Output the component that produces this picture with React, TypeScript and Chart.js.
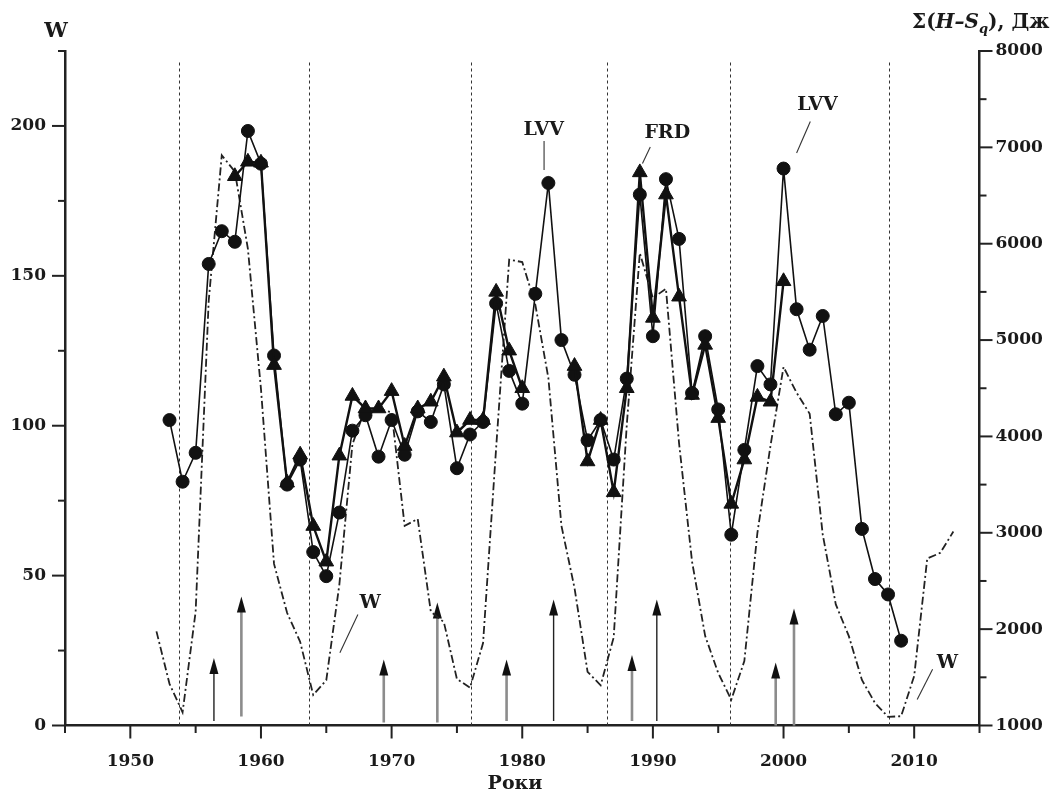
import React, { useEffect, useRef } from 'react';
import { Chart, registerables } from 'chart.js';

Chart.register(...registerables);

// ---------- data ----------
const years = [
  1952, 1953, 1954, 1955, 1956, 1957, 1958, 1959, 1960, 1961,
  1962, 1963, 1964, 1965, 1966, 1967, 1968, 1969, 1970, 1971,
  1972, 1973, 1974, 1975, 1976, 1977, 1978, 1979, 1980, 1981,
  1982, 1983, 1984, 1985, 1986, 1987, 1988, 1989, 1990, 1991,
  1992, 1993, 1994, 1995, 1996, 1997, 1998, 1999, 2000, 2001,
  2002, 2003, 2004, 2005, 2006, 2007, 2008, 2009, 2010, 2011,
  2012, 2013,
];

// W (left axis) — dash-dot curve
const sunspotW = [
  31.4, 13.9, 4.4, 38.0, 141.7, 190.2, 184.8, 159.0, 112.3, 53.9,
  37.6, 27.9, 10.2, 15.1, 47.0, 93.8, 105.9, 105.5, 104.5, 66.6,
  68.9, 38.0, 34.5, 15.5, 12.6, 27.5, 92.5, 155.4, 154.6, 140.4,
  115.9, 66.6, 45.9, 17.9, 13.4, 29.4, 100.2, 157.6, 142.6, 145.7,
  94.3, 54.6, 29.9, 17.5, 8.6, 21.5, 64.3, 93.3, 119.6, 111.0,
  104.0, 63.7, 40.4, 29.8, 15.2, 7.5, 2.9, 3.1, 16.5, 55.7,
  57.6, 64.7,
];

// Σ(H–Sq), Дж (right axis) — LVV, circles
const lvvSum = [
  null, 4170, 3530, 3830, 5790, 6130, 6020, 7170, 6830, 4840,
  3500, 3760, 2800, 2550, 3210, 4060, 4220, 3790, 4170, 3810,
  4260, 4150, 4540, 3670, 4020, 4150, 5380, 4680, 4340, 5480,
  6630, 5000, 4640, 3960, 4170, 3760, 4600, 6510, 5040, 6670,
  6050, 4450, 5040, 4280, 2980, 3860, 4730, 4540, 6780, 5320,
  4900, 5250, 4230, 4350, 3040, 2520, 2360, 1880, null, null,
  null, null,
];

// Σ(H–Sq), Дж (right axis) — FRD, triangles
const frdSum = [
  null, null, null, null, null, null, 6700, 6850, 6840, 4740,
  3520, 3810, 3070, 2700, 3800, 4420, 4290, 4290, 4470, 3900,
  4290, 4360, 4620, 4040, 4170, 4170, 5500, 4890, 4500, null,
  null, null, 4730, 3740, 4170, 3420, 4500, 6740, 5230, 6510,
  5450, 4430, 4950, 4190, 3300, 3760, 4410, 4360, 5610, null,
  null, null, null, null, null, null, null, null, null, null,
  null, null,
];

// vertical dotted lines (cycle minima), in years
const cycleMinima = [1953.7, 1963.65, 1976.1, 1986.45, 1995.9, 2008.05];
const minimaTopW = 222;

// arrows at the bottom (year, top and base in W units, grey or dark)
const arrowYears = [1956.4, 1958.5, 1969.4, 1973.5, 1978.8, 1982.4, 1988.4, 1990.3, 1999.4, 2000.8];
const arrowTops = [22.5, 43, 22, 41, 22, 42, 23.5, 42, 21, 39];
const arrowBases = [1.5, 3, 1, 1, 1.5, 1.5, 1.5, 1.5, 0, 0];
const arrowGray = [false, true, true, true, true, false, true, false, true, true];

// axis tick steps
const xTickStep = 5;
const xLabelStep = 10;
const yTickStep = 25;
const yLabelStep = 50;
const y2TickStep = 500;
const y2LabelStep = 1000;

// annotation labels (positions in data units: year, W)
const noteTexts = ['LVV', 'FRD', 'LVV', 'W', 'W'];
const noteX = [1981.65, 1991.1, 2002.6, 1968.35, 2012.55];
const noteY = [198.5, 197.5, 207, 41, 20.7];
// pointer lines: [x1, y1, x2, y2] in data units
const pointerX1 = [1981.67, 1989.8, 2002.05, 1967.42, 2011.41];
const pointerY1 = [195, 193, 201.5, 37, 18.8];
const pointerX2 = [1981.67, 1989.2, 2001.0, 1966.04, 2010.23];
const pointerY2 = [185.3, 187.5, 191, 24.3, 8.7];

const SERIF = '"DejaVu Serif", "Liberation Serif", serif';
const INK = '#1a1a1a';

const decorPlugin = {
  id: 'decor',
  beforeDatasetsDraw(chart: any) {
    const { ctx, scales } = chart;
    const x = scales.x;
    const y = scales.y;
    ctx.save();
    // dotted minima lines
    ctx.setLineDash([3, 3]);
    ctx.lineWidth = 1;
    ctx.strokeStyle = '#333';
    cycleMinima.forEach((m) => {
      const px = Math.round(x.getPixelForValue(m)) + 0.5;
      ctx.beginPath();
      ctx.moveTo(px, y.getPixelForValue(0));
      ctx.lineTo(px, y.getPixelForValue(minimaTopW));
      ctx.stroke();
    });
    ctx.setLineDash([]);
    // arrows
    arrowYears.forEach((yr, i) => {
      const px = x.getPixelForValue(yr);
      const top = y.getPixelForValue(arrowTops[i]);
      const base = y.getPixelForValue(arrowBases[i]);
      ctx.strokeStyle = arrowGray[i] ? '#8c8c8c' : '#222';
      ctx.lineWidth = arrowGray[i] ? 2.6 : 1.4;
      ctx.beginPath();
      ctx.moveTo(px, base);
      ctx.lineTo(px, top + 12);
      ctx.stroke();
      ctx.fillStyle = '#111';
      ctx.beginPath();
      ctx.moveTo(px, top);
      ctx.lineTo(px - 4.5, top + 16);
      ctx.lineTo(px + 4.5, top + 16);
      ctx.closePath();
      ctx.fill();
    });
    ctx.restore();
  },
  afterDatasetsDraw(chart: any) {
    const { ctx, scales } = chart;
    const x = scales.x;
    const y = scales.y;
    ctx.save();
    ctx.strokeStyle = '#333';
    ctx.lineWidth = 1.1;
    pointerX1.forEach((_, i) => {
      ctx.beginPath();
      ctx.moveTo(x.getPixelForValue(pointerX1[i]), y.getPixelForValue(pointerY1[i]));
      ctx.lineTo(x.getPixelForValue(pointerX2[i]), y.getPixelForValue(pointerY2[i]));
      ctx.stroke();
    });
    ctx.fillStyle = INK;
    ctx.font = `bold 19px ${SERIF}`;
    ctx.textAlign = 'center';
    ctx.textBaseline = 'middle';
    noteTexts.forEach((t, i) => {
      ctx.fillText(t, x.getPixelForValue(noteX[i]), y.getPixelForValue(noteY[i]));
    });
    ctx.restore();
  },
  afterDraw(chart: any) {
    const { ctx, scales, chartArea } = chart;
    const { x, y, y2 } = scales;
    ctx.save();
    ctx.strokeStyle = '#222';
    ctx.lineWidth = 2;
    const line = (a: number, b: number, c: number, d: number) => {
      ctx.beginPath();
      ctx.moveTo(a, b);
      ctx.lineTo(c, d);
      ctx.stroke();
    };
    x.ticks.forEach((t: any) => {
      const px = x.getPixelForValue(t.value);
      const major = t.value % xLabelStep === 0;
      line(px, chartArea.bottom, px, chartArea.bottom + (major ? 13 : 7.5));
    });
    y.ticks.forEach((t: any) => {
      const py = y.getPixelForValue(t.value);
      const major = t.value % yLabelStep === 0;
      line(chartArea.left - (major ? 13 : 7), py, chartArea.left, py);
    });
    y2.ticks.forEach((t: any) => {
      const py = y2.getPixelForValue(t.value);
      const major = t.value % y2LabelStep === 0;
      line(chartArea.right, py, chartArea.right + (major ? 13 : 7), py);
    });

    // axis titles
    ctx.fillStyle = INK;
    ctx.textBaseline = 'alphabetic';
    ctx.textAlign = 'center';
    ctx.font = `bold 21px ${SERIF}`;
    ctx.fillText('W', 56, 37);

    ctx.font = `bold 19px ${SERIF}`;
    ctx.fillText('Роки', 515, 789);

    // Σ(H–Sq), Дж
    ctx.textAlign = 'left';
    let cx = 912;
    const by = 28;
    const put = (s: string, font: string, dy = 0) => {
      ctx.font = font;
      ctx.fillText(s, cx, by + dy);
      cx += ctx.measureText(s).width;
    };
    put('Σ(', `bold 20px ${SERIF}`);
    put('H–S', `italic bold 20px ${SERIF}`);
    put('q', `italic bold 13px ${SERIF}`, 5);
    put('), Дж', `bold 20px ${SERIF}`);
    ctx.restore();
  },
};

export default function App() {
  const canvasRef = useRef<HTMLCanvasElement | null>(null);

  useEffect(() => {
    const canvas = canvasRef.current;
    if (!canvas) return;
    const tickFont = { family: SERIF, weight: 'bold' as const, size: 17 };
    const chart = new Chart(canvas, {
      type: 'line',
      data: {
        datasets: [
          {
            label: 'FRD',
            data: years.map((yr, i) => ({ x: yr, y: frdSum[i] })),
            yAxisID: 'y2',
            borderColor: '#111',
            borderWidth: 2.4,
            pointStyle: 'triangle',
            pointRadius: 8.5,
            pointBackgroundColor: '#111',
            pointBorderColor: '#111',
            pointBorderWidth: 1,
            spanGaps: false,
            order: 1,
          },
          {
            label: 'LVV',
            data: years.map((yr, i) => ({ x: yr, y: lvvSum[i] })),
            yAxisID: 'y2',
            borderColor: '#111',
            borderWidth: 1.6,
            pointStyle: 'circle',
            pointRadius: 6.5,
            pointBackgroundColor: '#111',
            pointBorderColor: '#111',
            pointBorderWidth: 1,
            spanGaps: false,
            order: 2,
          },
          {
            label: 'W',
            data: years.map((yr, i) => ({ x: yr, y: sunspotW[i] })),
            yAxisID: 'y',
            borderColor: '#222',
            borderWidth: 1.8,
            borderDash: [8, 3, 2, 3],
            pointRadius: 0,
            order: 3,
          },
        ] as any,
      },
      options: {
        responsive: false,
        animation: false,
        devicePixelRatio: 1,
        layout: { padding: { top: 51, left: 0, right: 0, bottom: 0 } },
        plugins: {
          legend: { display: false },
          tooltip: { enabled: false },
          title: { display: false },
        },
        elements: { line: { tension: 0 } },
        scales: {
          x: {
            type: 'linear',
            min: 1945,
            max: 2015,
            grid: { display: false, drawTicks: false },
            border: { display: true, width: 2.5, color: '#222' },
            ticks: {
              stepSize: xTickStep,
              autoSkip: false,
              maxRotation: 0,
              padding: 26,
              color: INK,
              font: tickFont,
              callback: (v: any) => (Number(v) % xLabelStep === 0 ? String(v) : ''),
            },
            afterFit: (s: any) => {
              s.height = 65.5;
            },
          },
          y: {
            type: 'linear',
            position: 'left',
            min: 0,
            max: 225,
            grid: { display: false, drawTicks: false },
            border: { display: true, width: 2.5, color: '#222' },
            ticks: {
              stepSize: yTickStep,
              padding: 19,
              color: INK,
              font: tickFont,
              callback: (v: any) => (Number(v) % yLabelStep === 0 ? String(v) : ''),
            },
            afterFit: (s: any) => {
              s.width = 65;
            },
          },
          y2: {
            type: 'linear',
            position: 'right',
            min: 1000,
            max: 8000,
            grid: { display: false, drawTicks: false },
            border: { display: true, width: 2.5, color: '#222' },
            ticks: {
              stepSize: y2TickStep,
              padding: 16,
              color: INK,
              font: tickFont,
              callback: (v: any) => (Number(v) % y2LabelStep === 0 ? String(v) : ''),
            },
            afterFit: (s: any) => {
              s.width = 73.5;
            },
          },
        },
      } as any,
      plugins: [decorPlugin],
    });
    return () => chart.destroy();
  }, []);

  return (
    <div style={{ position: 'absolute', left: 0, top: 0, width: 1053, height: 791, background: '#fff' }}>
      <canvas ref={canvasRef} width={1053} height={791} />
    </div>
  );
}
